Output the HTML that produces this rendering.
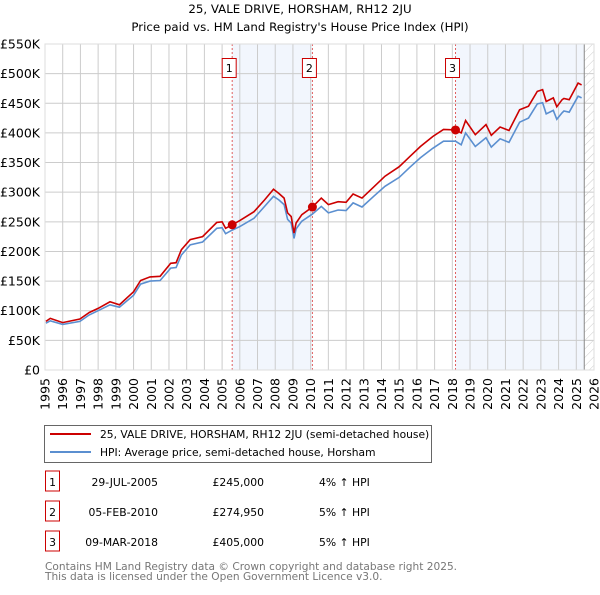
<!DOCTYPE html>
<html><head><meta charset="utf-8"><style>
body{margin:0;background:#fff;}
svg text{font-family:"DejaVu Sans","Liberation Sans",sans-serif;}
</style></head><body>
<svg id="c" width="600" height="590" xmlns="http://www.w3.org/2000/svg">
<text x="300" y="13" text-anchor="middle" font-size="11.8">25, VALE DRIVE, HORSHAM, RH12 2JU</text>
<text x="300" y="31" text-anchor="middle" font-size="11.8">Price paid vs. HM Land Registry's House Price Index (HPI)</text>
<g id="plot"></g>
<g>
<rect x="44.5" y="425.5" width="387" height="37" fill="#fff" stroke="#666"/>
<line x1="50" y1="434" x2="91" y2="434" stroke="#cc0000" stroke-width="2"/>
<text x="100" y="438" font-size="10.7">25, VALE DRIVE, HORSHAM, RH12 2JU (semi-detached house)</text>
<line x1="50" y1="452" x2="91" y2="452" stroke="#5b8fd0" stroke-width="2"/>
<text x="100" y="456" font-size="10.7">HPI: Average price, semi-detached house, Horsham</text>
</g>
<g id="table"></g>
<text x="45" y="570" font-size="10.6" fill="#777">Contains HM Land Registry data © Crown copyright and database right 2025.</text>
<text x="45" y="580" font-size="10.6" fill="#777">This data is licensed under the Open Government Licence v3.0.</text>
</svg>
<script>
const years=[1995.05,1995.3,1996.0,1996.97,1997.5,1998.0,1998.67,1999.2,2000.0,2000.4,2000.93,2001.5,2002.1,2002.4,2002.7,2003.2,2003.9,2004.7,2005.0,2005.2,2005.57,2006.0,2006.8,2007.4,2007.9,2008.2,2008.5,2008.7,2008.9,2009.06,2009.18,2009.5,2010.1,2010.6,2011.0,2011.55,2012.0,2012.4,2012.9,2013.6,2014.2,2015.0,2015.6,2016.2,2016.9,2017.5,2018.18,2018.5,2018.75,2019.3,2019.9,2020.2,2020.7,2021.2,2021.8,2022.3,2022.8,2023.1,2023.3,2023.7,2023.9,2024.2,2024.3,2024.6,2025.1,2025.3];
const priceSeries=[82,87,80,86,97,104,115,110,132,151,157,158,180,181,203,220,225,249,250,239,245,252,267,287,305,298,290,265,259,231,248,262,275,290,279,284,283,297,290,310,327,343,360,377,394,406,405,400,421,397,414,396,410,404,439,445,470,473,453,459,444,456,458,456,484,481];
const hpiSeries=[79,83,77,82,93,100,110,106,126,145,150,151,172,173,194,211,216,239,240,230,236,242,256,276,293,287,279,254,248,222,238,251,263,276,265,270,269,282,275,294,310,325,342,358,374,386,386,380,400,377,392,376,390,384,418,425,449,451,432,438,423,434,437,435,462,459];
const yTicks=[0,50,100,150,200,250,300,350,400,450,500,550];
const yTickLabels=["£0","£50K","£100K","£150K","£200K","£250K","£300K","£350K","£400K","£450K","£500K","£550K"];
const xTicks=[1995,1996,1997,1998,1999,2000,2001,2002,2003,2004,2005,2006,2007,2008,2009,2010,2011,2012,2013,2014,2015,2016,2017,2018,2019,2020,2021,2022,2023,2024,2025,2026];
const saleLabels=["1","2","3"];
const saleYears=[2005.57,2010.1,2018.18];
const salePrices=[245,274.95,405];
const saleDates=["29-JUL-2005","05-FEB-2010","09-MAR-2018"];
const salePriceText=["£245,000","£274,950","£405,000"];
const saleHpiText=["4% ↑ HPI","5% ↑ HPI","5% ↑ HPI"];
const dataEnd=2025.45;

const L=45,R=594,T=44,B=370;
const X=y=>L+(y-1995)/(2026-1995)*(R-L);
const Y=v=>B-v/550*(B-T);
const NS="http://www.w3.org/2000/svg";
const plot=document.getElementById('plot');
function mk(tag,at,parent){const e=document.createElementNS(NS,tag);for(const k in at)e.setAttribute(k,at[k]);(parent||plot).appendChild(e);return e;}

// shading
const shadeFrom=[saleYears[0],saleYears[2]];
const shadeTo=[saleYears[1],dataEnd];
shadeFrom.forEach((s,i)=>{
  const r=mk('rect',{x:X(s),y:T,width:X(shadeTo[i])-X(s),height:B-T,fill:'#eef3fc',opacity:0.75});
  
  
});
// hatch
const defs=mk('defs',{});
const pat=mk('pattern',{id:'h',width:6,height:6,patternUnits:'userSpaceOnUse',patternTransform:'rotate(45)'},defs);
mk('line',{x1:0,y1:0,x2:0,y2:6,stroke:'#ccc','stroke-width':1},pat);
const hr=mk('rect',{x:X(dataEnd),y:T,width:R-X(dataEnd),height:B-T,fill:'url(#h)'});


// grid
yTicks.forEach((v,i)=>{
  const g=mk('line',{x1:L,x2:R,y1:Y(v),y2:Y(v),stroke:'#ccc','stroke-width':1});
  
  
  const t=mk('text',{x:L-5,y:Y(v)+4.5,'text-anchor':'end','font-size':12.5});
  t.textContent=yTickLabels[i];
  
  
});
xTicks.forEach(yr=>{
  const g=mk('line',{x1:X(yr),x2:X(yr),y1:T,y2:B,stroke:'#ccc','stroke-width':1});
  
  
  const t=mk('text',{x:0,y:0,'text-anchor':'end','font-size':12.5,transform:`translate(${X(yr)+4.5},${B+8}) rotate(-90)`});
  t.textContent=yr;
  
  
});
const el=mk('line',{x1:X(dataEnd),x2:X(dataEnd),y1:T,y2:B,stroke:'#888','stroke-width':1});


// sale vlines
saleYears.forEach(s=>{
  const l=mk('line',{x1:X(s),x2:X(s),y1:T,y2:B,stroke:'#e06060','stroke-width':1,'stroke-dasharray':'2,2'});
  
  
});
// series
const pts=arr=>arr.map((v,i)=>X(years[i]).toFixed(1)+','+Y(v).toFixed(1)).join(' ');
const hp=mk('polyline',{points:pts(hpiSeries),fill:'none',stroke:'#5b8fd0','stroke-width':1.6});


const pp=mk('polyline',{points:pts(priceSeries),fill:'none',stroke:'#cc0000','stroke-width':1.6});


saleYears.forEach((s,i)=>{
  const c=mk('circle',{cx:X(s),cy:Y(salePrices[i]),r:4.5,fill:'#cc0000'});
  
  
  const b=mk('rect',{x:X(s)-10,y:58.5,width:14,height:19,fill:'#fff',stroke:'#cc0000'});
  
  
  const t=mk('text',{x:X(s)-3,y:72,'text-anchor':'middle','font-size':11});
  t.textContent=saleLabels[i];
  
  
});
mk('rect',{x:L,y:T,width:R-L,height:B-T,fill:'none',stroke:'#ddd'});
// table
const tb=document.getElementById('table');
const rowY=[482,512,542];
saleLabels.forEach((s,i)=>{
  const y=rowY[i];
  const b=mk('rect',{x:45.5,y:y-11,width:14,height:20,fill:'#fff',stroke:'#cc0000'},tb);
  
  
  const cells=[[s,52.5,'middle'],[saleDates[i],158,'end'],[salePriceText[i],264,'end'],[saleHpiText[i],319,'start']];
  cells.forEach(c=>{
    const t=mk('text',{x:c[1],y:y+4,'text-anchor':c[2],'font-size':10.8},tb);
    t.textContent=c[0];
    
    
  });
});
</script>
</body></html>
